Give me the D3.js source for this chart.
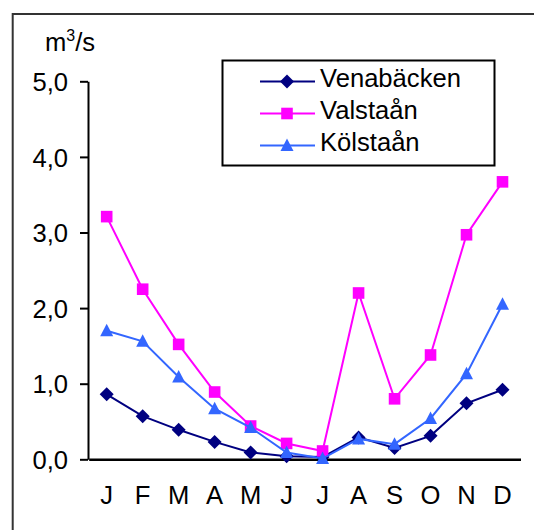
<!DOCTYPE html>
<html>
<head>
<meta charset="utf-8">
<script src="https://cdn.jsdelivr.net/npm/d3@7"></script>
<style>
  html, body { margin: 0; padding: 0; background: #fff; }
  svg { display: block; font-family: "Liberation Sans", Arial, sans-serif; }
</style>
</head>
<body>
<svg id="chart" width="534" height="530"></svg>
<script>
// Monthly mean discharge (m³/s) for three streams
const months = ["J", "F", "M", "A", "M", "J", "J", "A", "S", "O", "N", "D"];
const yTicks = [0, 1, 2, 3, 4, 5];
const venabacken = [0.86, 0.57, 0.39, 0.23, 0.09, 0.04, 0.03, 0.29, 0.15, 0.31, 0.74, 0.92];
const valstaan   = [3.21, 2.25, 1.52, 0.89, 0.44, 0.21, 0.11, 2.20, 0.80, 1.38, 2.97, 3.67];
const kolstaan   = [1.70, 1.56, 1.09, 0.67, 0.42, 0.09, 0.01, 0.27, 0.20, 0.54, 1.13, 2.05];

const series = [
  { name: "Venabäcken", values: venabacken, color: "#000080", marker: "diamond" },
  { name: "Valstaån",   values: valstaan,   color: "#FF00FF", marker: "square" },
  { name: "Kölstaån",   values: kolstaan,   color: "#3366FF", marker: "triangle" }
];

const FONT = 25.6;
const svg = d3.select("#chart");

// outer frame (runs off the right and bottom edges)
svg.append("rect")
  .attr("x", 12.7).attr("y", 14)
  .attr("width", 600).attr("height", 600)
  .attr("fill", "none").attr("stroke", "#333").attr("stroke-width", 2);

const x = d3.scaleBand().domain(d3.range(months.length)).range([88.7, 520.5]);
const cx = i => x(i) + x.bandwidth() / 2;
const y = d3.scaleLinear().domain([0, 5]).range([459.3, 81.3]);

// y axis
const yAxis = svg.append("g")
  .attr("transform", "translate(88,0)")
  .call(d3.axisLeft(y).tickValues(yTicks).tickSize(8).tickSizeOuter(0).tickPadding(12)
    .tickFormat(d => d.toFixed(1).replace(".", ",")));
yAxis.select(".domain").attr("stroke", "#000").attr("stroke-width", 2);
yAxis.selectAll(".tick line").attr("stroke", "#000").attr("stroke-width", 2);
yAxis.selectAll(".tick text").attr("font-size", FONT).attr("fill", "#000")
  .attr("font-family", "Liberation Sans, Arial, sans-serif").attr("dy", "0.36em");

// x axis
const xAxis = svg.append("g")
  .attr("transform", `translate(0,${y(0)})`)
  .call(d3.axisBottom(x).tickSize(0).tickSizeOuter(0).tickFormat(i => months[i]));
xAxis.select(".domain").attr("stroke", "#000").attr("stroke-width", 2.5);
xAxis.selectAll(".tick text").attr("font-size", FONT).attr("fill", "#000")
  .attr("font-family", "Liberation Sans, Arial, sans-serif")
  .attr("y", 45).attr("dy", 0);

// unit label
const unit = svg.append("text").attr("x", 45).attr("y", 51)
  .attr("font-size", FONT).attr("fill", "#000");
unit.append("tspan").text("m");
unit.append("tspan").text("3").attr("font-size", 16).attr("dy", -10);
unit.append("tspan").text("/s").attr("dy", 10);

// marker shapes, centred on the data point
function markerPath(kind) {
  if (kind === "diamond") return "M0,-7L7,0L0,7L-7,0Z";
  if (kind === "square") return "M-5.8,-5.8H5.8V5.8H-5.8Z";
  return "M0,-7L6.5,5.5H-6.5Z";
}

const line = d3.line().x((d, i) => cx(i)).y(d => y(d));

series.forEach(s => {
  svg.append("path")
    .attr("d", line(s.values))
    .attr("fill", "none").attr("stroke", s.color).attr("stroke-width", 2);
  svg.append("g").selectAll("path")
    .data(s.values).join("path")
    .attr("transform", (d, i) => `translate(${cx(i)},${y(d)})`)
    .attr("d", markerPath(s.marker))
    .attr("fill", s.color);
});

// legend
const legend = svg.append("g");
legend.append("rect")
  .attr("x", 222.5).attr("y", 60.5).attr("width", 272).attr("height", 105)
  .attr("fill", "#fff").attr("stroke", "#000").attr("stroke-width", 2);
series.forEach((s, k) => {
  const ly = 81.5 + k * 32;
  legend.append("line")
    .attr("x1", 260).attr("x2", 315).attr("y1", ly).attr("y2", ly)
    .attr("stroke", s.color).attr("stroke-width", 2);
  legend.append("path")
    .attr("transform", `translate(287,${ly})`)
    .attr("d", markerPath(s.marker)).attr("fill", s.color);
  legend.append("text")
    .attr("x", 320).attr("y", ly + 5.5)
    .attr("font-size", FONT).attr("fill", "#000")
    .text(s.name);
});
</script>
</body>
</html>
